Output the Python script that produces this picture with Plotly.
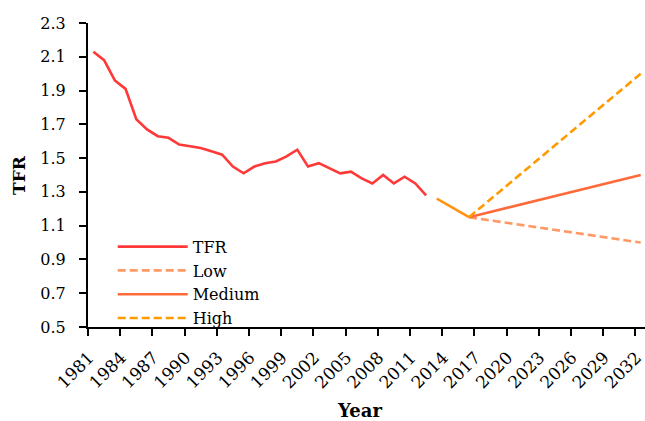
import plotly.graph_objects as go

# Observed total fertility rate
tfr_years = list(range(1981, 2013))
tfr_values = [2.13, 2.08, 1.96, 1.91, 1.73, 1.67, 1.63, 1.62, 1.58, 1.57,
              1.56, 1.54, 1.52, 1.45, 1.41, 1.45, 1.47, 1.48, 1.51, 1.55,
              1.45, 1.47, 1.44, 1.41, 1.42, 1.38, 1.35, 1.40, 1.35, 1.39,
              1.35, 1.28]

# Estimated bridge period before projections
est_years = [2013, 2016]
est_values = [1.26, 1.15]

# Projection scenarios
proj_years = [2016, 2032]
low_values = [1.15, 1.00]
medium_values = [1.15, 1.40]
high_values = [1.15, 2.00]

tick_years = list(range(1981, 2033, 3))
y_ticks = [0.5, 0.7, 0.9, 1.1, 1.3, 1.5, 1.7, 1.9, 2.1, 2.3]

FONT = "DejaVu Serif"
C_TFR = "#FF3838"
C_LOW = "#FF9A66"
C_MED = "#FF6A3A"
C_HIGH = "#FF9A00"
C_EST = "#FF9410"
LW = 2.6
DASH = "8px,4px"

fig = go.Figure()
fig.add_trace(go.Scatter(x=tfr_years, y=tfr_values, mode="lines", name="TFR",
                         line=dict(color=C_TFR, width=LW)))
fig.add_trace(go.Scatter(x=proj_years, y=low_values, mode="lines", name="Low",
                         line=dict(color=C_LOW, width=LW, dash=DASH)))
fig.add_trace(go.Scatter(x=proj_years, y=medium_values, mode="lines", name="Medium",
                         line=dict(color=C_MED, width=LW)))
fig.add_trace(go.Scatter(x=proj_years, y=high_values, mode="lines", name="High",
                         line=dict(color=C_HIGH, width=LW, dash=DASH)))
fig.add_trace(go.Scatter(x=est_years, y=est_values, mode="lines", name="Estimate",
                         showlegend=False, line=dict(color=C_EST, width=LW)))

fig.update_layout(
    width=645, height=421,
    margin=dict(l=88, r=0, t=23, b=94),
    paper_bgcolor="white", plot_bgcolor="white",
    font=dict(family=FONT, size=16, color="black"),
    showlegend=True,
    legend=dict(x=0.0444, y=0.32, xanchor="left", yanchor="top",
                bgcolor="rgba(0,0,0,0)", font=dict(size=16),
                itemwidth=70, tracegroupgap=0),
)

fig.update_xaxes(
    range=[1980.5, 2032.4],
    automargin=False,
    tickmode="array",
    tickvals=[y - 0.5 for y in tick_years],
    ticktext=[str(y) for y in tick_years],
    tickangle=-45,
    ticks="outside", ticklen=7, tickwidth=2, tickcolor="black",
    showline=True, linecolor="black", linewidth=2,
    showgrid=False, zeroline=False,
    tickfont=dict(size=17),
    ticklabelstandoff=5,
    ticklabelshift=1,
    ticklabeloverflow="allow",
)
fig.update_yaxes(
    range=[0.5, 2.3],
    automargin=False,
    tickmode="array",
    tickvals=y_ticks,
    ticktext=[f"{v:.1f}" for v in y_ticks],
    ticks="outside", ticklen=7, tickwidth=2, tickcolor="black",
    showline=True, linecolor="black", linewidth=2,
    showgrid=False, zeroline=False,
    tickfont=dict(size=16),
    ticklabelstandoff=10,
)

fig.add_annotation(text="<b>Year</b>", xref="paper", yref="paper",
                   x=(359 - 88) / 557, y=-(410 - 327) / 304,
                   xanchor="center", yanchor="middle", showarrow=False,
                   font=dict(size=18, family=FONT))
fig.add_annotation(text="<b>TFR</b>", xref="paper", yref="paper",
                   x=-(88 - 19) / 557, y=0.5, textangle=-90,
                   xanchor="center", yanchor="middle", showarrow=False,
                   font=dict(size=17, family=FONT))

fig.write_html("out.html")
